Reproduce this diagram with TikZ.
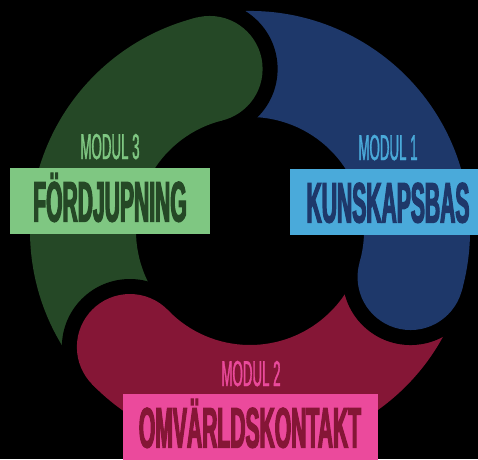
\documentclass[tikz,border=0pt]{standalone}
\usepackage{fontspec}
\usepackage{tikz}
\newfontfamily\titlefont[FakeStretch=0.37, FakeBold=2]{Liberation Sans}
\newfontfamily\modulfont[FakeStretch=0.37, FakeBold=1]{Liberation Sans}

\definecolor{ringblue}{HTML}{1E386A}
\definecolor{ringred}{HTML}{851636}
\definecolor{ringgreen}{HTML}{254826}
\definecolor{boxblue}{HTML}{4AAADA}
\definecolor{boxpink}{HTML}{EB4A9C}
\definecolor{boxgreen}{HTML}{7FC782}

\begin{document}
\begin{tikzpicture}[x=1pt, y=1pt,
    modul/.style={font=\modulfont\fontsize{36}{36}\selectfont, inner sep=0pt, text height=26pt, text depth=0pt},
    titlebox/.style={font=\titlefont\bfseries\fontsize{57}{57}\selectfont, inner sep=0pt, text height=41pt, text depth=0pt, minimum height=66pt}]
    \useasboundingbox (0,0) rectangle (478,459);
    \clip (0,0) rectangle (478,459);
    \fill[black] (0,0) rectangle (478,459);

    % the three pieces of the ring
    \begin{scope}[shift={(250,228)}]
        \fill[ringblue] (104:220) arc[start angle=104, end angle=-16, radius=220pt] -- (-16:114) arc[start angle=-16, end angle=104, radius=114pt] -- cycle;
        \fill[ringred] (-16:220) arc[start angle=-16, end angle=-136, radius=220pt] -- (-136:114) arc[start angle=-136, end angle=-16, radius=114pt] -- cycle;
        \fill[ringgreen] (224:220) arc[start angle=224, end angle=104, radius=220pt] -- (104:114) arc[start angle=104, end angle=224, radius=114pt] -- cycle;
        % gap and round head where one piece meets the next
        \foreach \a/\col in {104/ringgreen, -16/ringblue, -136/ringred} {
            \begin{scope}
                \clip (0,0) -- (\a:300) -- (\a-30:300) -- (\a-60:300) -- cycle;
                \fill[black] (\a:167) circle[radius=68pt];
            \end{scope}
            \fill[\col] (\a:167) circle[radius=53pt];
        }
    \end{scope}

    \node[modul, text=boxblue] (modul1) at (388,312) {MODUL 1};
    \node[titlebox, fill=boxblue, text=ringblue, minimum width=197pt] (kunskap) at (388,257) {KUNSKAPSBAS};

    \node[modul, text=boxpink] (modul2) at (251,86) {MODUL 2};
    \node[titlebox, fill=boxpink, text=ringred, minimum width=255pt] (omvarld) at (250,32) {OMVÄRLDSKONTAKT};

    \node[modul, text=boxgreen] (modul3) at (110,313) {MODUL 3};
    \node[titlebox, fill=boxgreen, text=ringgreen, minimum width=200pt] (fordjup) at (110,258) {FÖRDJUPNING};
\end{tikzpicture}
\end{document}
